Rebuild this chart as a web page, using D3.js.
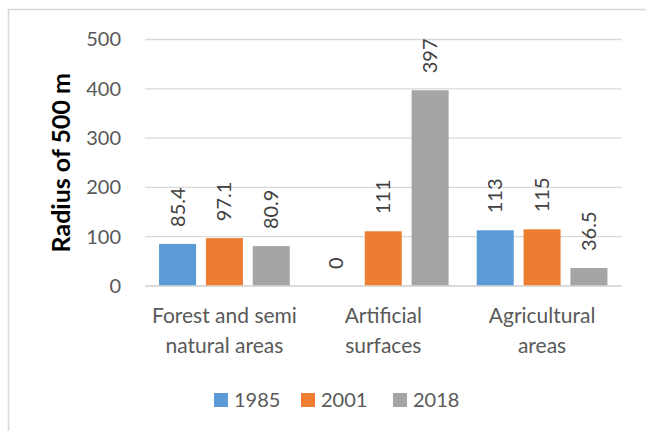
<!DOCTYPE html>
<html>
<head>
<meta charset="utf-8">
<script src="https://cdn.jsdelivr.net/npm/d3@7"></script>
<style>
  body { margin: 0; background: #fff; }
  svg text { font-family: Lato, "Open Sans", sans-serif; }
</style>
</head>
<body>
<div id="chart"><svg></svg></div>
<script>
var categories = ["Forest and semi natural areas", "Artificial surfaces", "Agricultural areas"];
var categoryLines = [["Forest and semi", "natural areas"], ["Artificial", "surfaces"], ["Agricultural", "areas"]];
var series = ["1985", "2001", "2018"];
var values1985 = [85.4, 0, 113];
var values2001 = [97.1, 111, 115];
var values2018 = [80.9, 397, 36.5];
var yTicks = [0, 100, 200, 300, 400, 500];
var yTitle = "Radius of 500 m";

var colors = { "1985": "#5b9bd5", "2001": "#ed7d31", "2018": "#a5a5a5" };
var seriesValues = { "1985": values1985, "2001": values2001, "2018": values2018 };

var width = 646, height = 431;
var plot = { left: 145, right: 621.5, top: 39.5, bottom: 286 };

var svg = d3.select("#chart svg").
  attr("width", width).
  attr("height", height);

// chart frame, runs off the right and bottom edge
svg.append("rect").
  attr("x", 8.5).
  attr("y", 9.5).
  attr("width", width + 10).
  attr("height", height + 10).
  attr("fill", "none").
  attr("stroke", "#d9d9d9").
  attr("stroke-width", 1.5);

var x0 = d3.scaleBand().
  domain(categories).
  range([plot.left, plot.right]).
  padding(0);

var x1 = d3.scaleBand().
  domain(series).
  range([0, x0.bandwidth()]).
  paddingInner(0.21).
  paddingOuter(0.3);

var y = d3.scaleLinear().
  domain([0, 500]).
  range([plot.bottom, plot.top]);

// gridlines
svg.append("g").
  selectAll("line").
  data(yTicks).
  join("line").
  attr("x1", plot.left).
  attr("x2", plot.right).
  attr("y1", function(d) { return y(d); }).
  attr("y2", function(d) { return y(d); }).
  attr("stroke", "#d9d9d9").
  attr("stroke-width", 1.3);

var yAxis = d3.axisLeft(y).
  tickValues(yTicks).
  tickSize(0).
  tickPadding(0);

var gY = svg.append("g").
  attr("transform", "translate(121,0)").
  call(yAxis);
gY.select(".domain").remove();
gY.selectAll("text").
  attr("fill", "#595959").
  style("font-size", "20px");

// bars
var rows = [];
categories.forEach(function(c, i) {
  series.forEach(function(s) {
    rows.push({ cat: c, s: s, v: seriesValues[s][i] });
  });
});

var groups = svg.append("g");

groups.selectAll("rect").
  data(rows).
  join("rect").
  attr("x", function(d) { return x0(d.cat) + x1(d.s); }).
  attr("y", function(d) { return y(d.v); }).
  attr("width", x1.bandwidth()).
  attr("height", function(d) { return y(0) - y(d.v); }).
  attr("fill", function(d) { return colors[d.s]; });

// value labels, rotated
groups.selectAll("text").
  data(rows).
  join("text").
  attr("transform", function(d) {
    var cx = x0(d.cat) + x1(d.s) + x1.bandwidth() / 2;
    return "translate(" + cx + "," + (y(d.v) - 17) + ") rotate(-90)";
  }).
  attr("dy", "0.35em").
  attr("fill", "#404040").
  style("font-size", "20px").
  text(function(d) { return d.v; });

// x axis line
svg.append("line").
  attr("x1", plot.left).
  attr("x2", plot.right).
  attr("y1", y(0)).
  attr("y2", y(0)).
  attr("stroke", "#d9d9d9").
  attr("stroke-width", 1.3);

// category labels
var catText = svg.append("g").
  selectAll("text").
  data(categories).
  join("text").
  attr("x", function(d) { return x0(d) + x0.bandwidth() / 2; }).
  attr("y", 322.5).
  attr("text-anchor", "middle").
  attr("fill", "#595959").
  style("font-size", "21px");

catText.selectAll("tspan").
  data(function(d, i) { return categoryLines[i]; }).
  join("tspan").
  attr("x", function() { return d3.select(this.parentNode).attr("x"); }).
  attr("dy", function(d, i) { return i === 0 ? 0 : 30; }).
  text(function(d) { return d; });

// y title
svg.append("text").
  attr("transform", "translate(70," + ((plot.top + plot.bottom) / 2) + ") rotate(-90)").
  attr("text-anchor", "middle").
  attr("fill", "#000").
  style("font-size", "25px").
  style("font-weight", "bold").
  text(yTitle);

// legend
var legendX = [214, 301, 393];
var legend = svg.append("g").
  selectAll("g").
  data(series).
  join("g").
  attr("transform", function(d, i) { return "translate(" + legendX[i] + ",393)"; });

legend.append("rect").
  attr("width", 14).
  attr("height", 14).
  attr("fill", function(d) { return colors[d]; });

legend.append("text").
  attr("x", 20).
  attr("y", 7).
  attr("dy", "0.36em").
  attr("fill", "#595959").
  style("font-size", "20px").
  text(function(d) { return d; });
</script>
</body>
</html>
